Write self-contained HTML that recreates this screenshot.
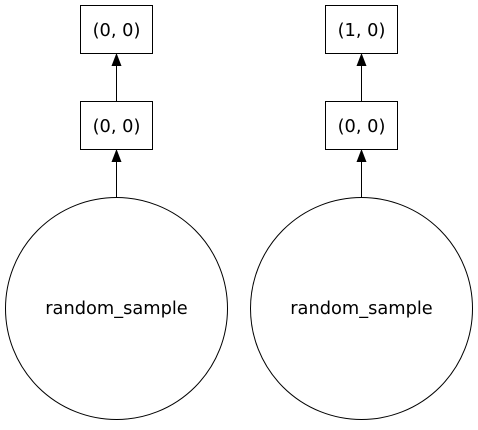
<!DOCTYPE html>
<html><head><style>body{margin:0;background:#fff}</style></head><body>
<svg width="478" height="425" xmlns="http://www.w3.org/2000/svg" font-family="DejaVu Sans, sans-serif" font-size="17.8">
<rect width="478" height="425" fill="#fff"/>
<g fill="none" stroke="#000" stroke-width="1">
<rect x="80.5" y="5.5" width="72" height="48"/>
<rect x="80.5" y="101.5" width="72" height="48"/>
<circle cx="116.5" cy="308.5" r="111"/>
<rect x="325.5" y="5.5" width="72" height="48"/>
<rect x="325.5" y="101.5" width="72" height="48"/>
<circle cx="361.5" cy="308.5" r="111"/>
<line x1="116.5" y1="101" x2="116.5" y2="65"/>
<line x1="116.5" y1="197" x2="116.5" y2="161"/>
<line x1="361.5" y1="101" x2="361.5" y2="65"/>
<line x1="361.5" y1="197" x2="361.5" y2="161"/>
</g>
<g fill="#000">
<polygon points="116.5,53 111.5,66 121.5,66"/>
<polygon points="116.5,149 111.5,162 121.5,162"/>
<polygon points="361.5,53 356.5,66 366.5,66"/>
<polygon points="361.5,149 356.5,162 366.5,162"/>
</g>
<g text-anchor="middle">
<text x="116.5" y="36">(0, 0)</text>
<text x="116.5" y="132">(0, 0)</text>
<text x="116.5" y="314">random_sample</text>
<text x="361.5" y="36">(1, 0)</text>
<text x="361.5" y="132">(0, 0)</text>
<text x="361.5" y="314">random_sample</text>
</g>
</svg>
</body></html>
